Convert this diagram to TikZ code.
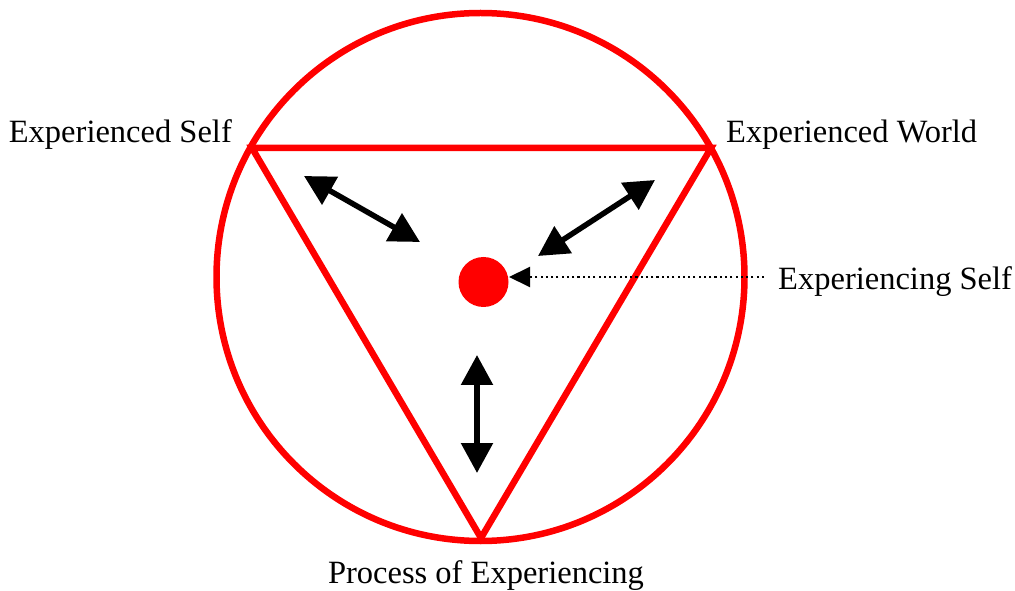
\documentclass[tikz,border=0pt]{standalone}
\usepackage{fontspec}
\setmainfont{Liberation Serif}
\usetikzlibrary{positioning,arrows.meta,calc}

\begin{document}
\begin{tikzpicture}[x=0.02cm,y=-0.02cm,
  every node/.style={font=\fontsize{18.5}{21}\selectfont},
  redline/.style={red,line width=0.13cm},
  bigarrow/.style={{Triangle[length=0.6cm,width=0.62cm]}-{Triangle[length=0.6cm,width=0.62cm]},line width=0.11cm},
  pointer/.style={-{Triangle[length=0.42cm,width=0.4cm]},line width=1.1pt,dash pattern=on 1.2pt off 1.8pt}]
\useasboundingbox (0,0) rectangle (1015,591);
% circle and triangle
\coordinate (o) at (480.5,277);
\coordinate (es) at (252,148);
\coordinate (ew) at (711,148);
\coordinate (pe) at (481,538);
\draw[redline] (o) circle[radius=264*0.02cm];
\draw[redline,line join=miter] (es) -- (ew) -- (pe) -- cycle;
\fill[red] (483.5,282) coordinate (self) circle[radius=25*0.02cm];
% labels
\node[anchor=east] (les) at (238,135) {Experienced Self};
\node[anchor=west] (lew) at (720,135) {Experienced World};
\node[anchor=west] (lxs) at (772,282) {Experiencing Self};
\node (lpe) at (486,576) {Process of Experiencing};
% arrows
\coordinate (a1) at (304,176); \coordinate (a2) at (420,242);
\coordinate (b1) at (655,180); \coordinate (b2) at (538,256);
\coordinate (c1) at (477,355); \coordinate (c2) at (477,473);
\draw[bigarrow] (a1) -- (a2);
\draw[bigarrow] (b1) -- (b2);
\draw[bigarrow] (c1) -- (c2);
\coordinate (d1) at (764,277);
\draw[pointer] (d1) -- (509,277);
\end{tikzpicture}
\end{document}
